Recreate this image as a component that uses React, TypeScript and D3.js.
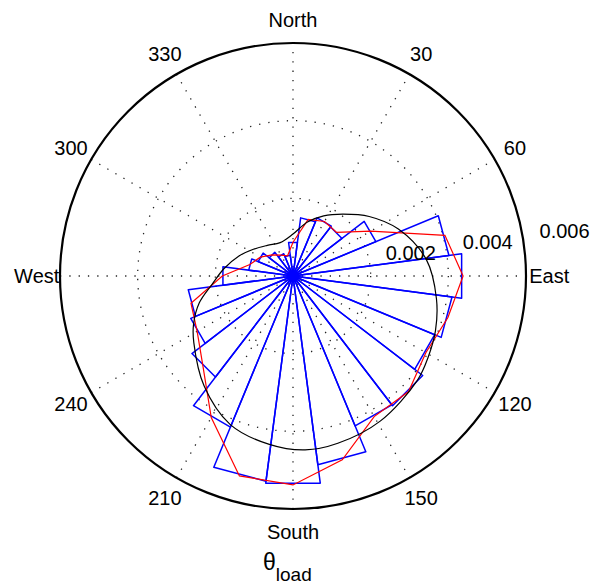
import React, { useEffect, useRef } from 'react';
import * as d3 from 'd3';

// rose histogram, bin centres (deg, clockwise from north) and densities
const binCenters = [0, 15, 30, 45, 60, 75, 90, 105, 120, 135, 150, 165,
  180, 195, 210, 225, 240, 255, 270, 285, 300, 315, 330, 345];
const binValues = [0.00087, 0.00151, 0.00162, 0.00159, 0.00231, 0.00405, 0.00438, 0.00413,
  0.00395, 0.00421, 0.00418, 0.0049, 0.00538, 0.00533, 0.00421, 0.00328,
  0.00285, 0.00272, 0.00182, 0.00115, 0.00097, 0.00077, 0.00062, 0.00054];
const binWidth = 15;

// smooth density estimate
const densityAngles = [0, 15, 27, 39, 52, 66, 83, 99, 111, 121, 130, 149, 165,
  176, 188, 203, 219, 236, 244, 254, 264, 276, 290, 304, 320, 339];
const densityValues = [0.00108, 0.00144, 0.00174, 0.00205, 0.00249, 0.00297, 0.00346,
  0.00374, 0.00393, 0.00406, 0.00418, 0.00436, 0.00446, 0.00449, 0.00438, 0.00415,
  0.00364, 0.00308, 0.00285, 0.00251, 0.0021, 0.00179, 0.00149, 0.00123, 0.00103, 0.00092];

const ringValues = [0.002, 0.004, 0.006];
const spokeAngles = [0, 30, 60, 90, 120, 150];
const angleLabels = ['North', '30', '60', 'East', '120', '150', 'South', '210', '240', 'West', '300', '330'];

const rad = (d: number) => (d * Math.PI) / 180;

export default function App() {
  const svgRef = useRef<SVGSVGElement>(null);

  useEffect(() => {
    const width = 604;
    const height = 586;
    const cx = 293;
    const cy = 276;
    const R = 233;
    const font = 'Liberation Sans, Arial, Helvetica, sans-serif';

    const svg = d3.select(svgRef.current)
      .attr('width', width)
      .attr('height', height);
    svg.selectAll('*').remove();

    const r = d3.scaleLinear().domain([0, 0.006]).range([0, R]);
    const g = svg.append('g').attr('transform', `translate(${cx},${cy})`);

    // dotted rings
    g.selectAll('.ring')
      .data(ringValues.slice(0, -1))
      .enter().append('circle')
      .attr('r', d => r(d))
      .attr('fill', 'none')
      .attr('stroke', '#222')
      .attr('stroke-width', 1.3)
      .attr('stroke-dasharray', '1.3 8');

    // dotted spokes through the centre
    g.selectAll('.spoke')
      .data(spokeAngles)
      .enter().append('line')
      .attr('x1', d => -R * Math.sin(rad(d)))
      .attr('y1', d => R * Math.cos(rad(d)))
      .attr('x2', d => R * Math.sin(rad(d)))
      .attr('y2', d => -R * Math.cos(rad(d)))
      .attr('stroke', '#222')
      .attr('stroke-width', 1.3)
      .attr('stroke-dasharray', '1.3 8');

    // outer solid circle
    g.append('circle')
      .attr('r', r(0.006))
      .attr('fill', 'none')
      .attr('stroke', '#000')
      .attr('stroke-width', 2.2);

    // rose wedges
    const wedge = d3.lineRadial<[number, number]>()
      .angle(d => rad(d[0]))
      .radius(d => r(d[1]));
    g.selectAll('.bin')
      .data(binCenters)
      .enter().append('path')
      .attr('d', (c, i) => wedge([
        [c - binWidth / 2, 0],
        [c - binWidth / 2, binValues[i]],
        [c + binWidth / 2, binValues[i]],
        [c + binWidth / 2, 0],
      ]))
      .attr('fill', 'none')
      .attr('stroke', '#0000ff')
      .attr('stroke-width', 1.5)
      .attr('stroke-linejoin', 'round');

    // red polygon through bin centres
    const poly = d3.lineRadial<number>()
      .angle((d, i) => rad(binCenters[i]))
      .radius(d => r(d))
      .curve(d3.curveLinearClosed);
    g.append('path')
      .attr('d', poly(binValues))
      .attr('fill', 'none')
      .attr('stroke', '#ff0000')
      .attr('stroke-width', 1.2);

    // black density curve
    const dens = d3.lineRadial<number>()
      .angle((d, i) => rad(densityAngles[i]))
      .radius(d => r(d))
      .curve(d3.curveCatmullRomClosed);
    g.append('path')
      .attr('d', dens(densityValues))
      .attr('fill', 'none')
      .attr('stroke', '#000')
      .attr('stroke-width', 1.2);

    // angle labels
    g.selectAll('.alabel')
      .data(angleLabels)
      .enter().append('text')
      .attr('x', (d, i) => 1.1 * R * Math.sin(rad(i * 30)))
      .attr('y', (d, i) => -1.1 * R * Math.cos(rad(i * 30)))
      .attr('text-anchor', 'middle')
      .attr('dominant-baseline', 'central')
      .attr('font-family', font)
      .attr('font-size', 20)
      .text(d => d);

    // radial labels, placed along 82 degrees like matlab's polar
    g.selectAll('.rlabel')
      .data(ringValues)
      .enter().append('text')
      .attr('x', d => r(d + 0.0001) * Math.sin(rad(82)) + 12)
      .attr('y', d => -r(d + 0.0001) * Math.cos(rad(82)) - 5)
      .attr('font-family', font)
      .attr('font-size', 20)
      .text(d => d3.format('.3f')(d));

    // title
    const title = svg.append('text')
      .attr('x', 263)
      .attr('y', 570)
      .attr('font-family', font)
      .attr('font-size', 23);
    title.append('tspan').text('θ');
    title.append('tspan')
      .attr('dy', 11)
      .attr('font-size', 19)
      .text('load');
  }, []);

  return (
    <div style={{ position: 'absolute', left: 0, top: 0, background: '#fff' }}>
      <svg ref={svgRef} />
    </div>
  );
}
